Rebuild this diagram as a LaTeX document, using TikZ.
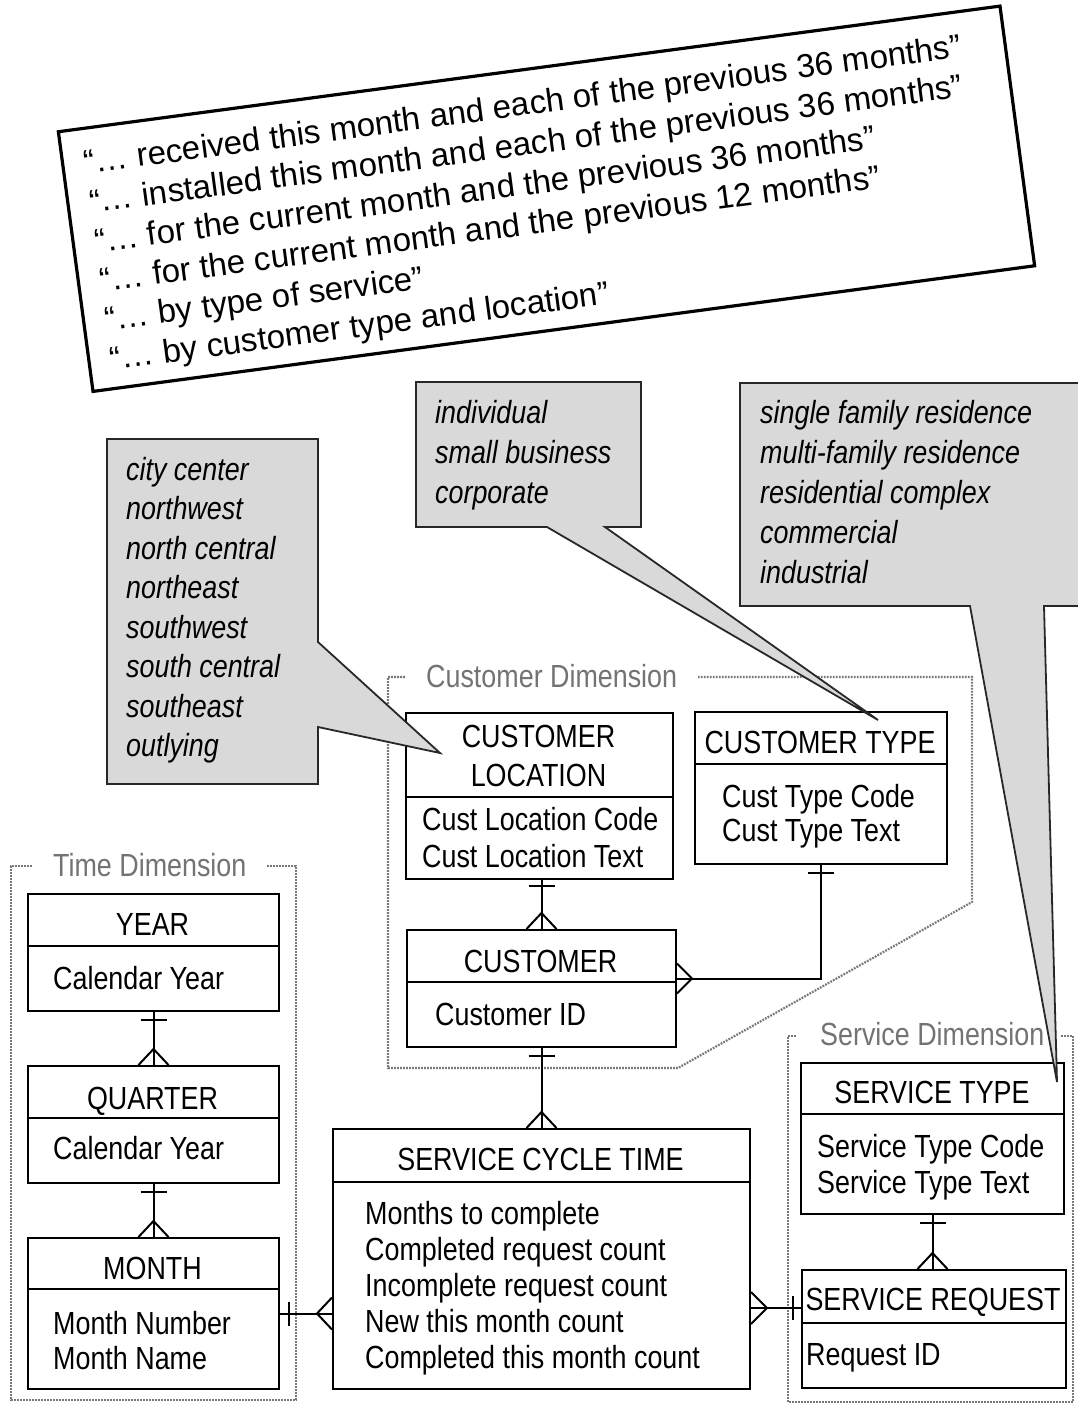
\documentclass[tikz,border=0pt]{standalone}
\usepackage{fontspec}
\setmainfont{Liberation Sans}[FakeStretch=0.84]
\newfontfamily\quotefont{Liberation Sans}
\usetikzlibrary{calc}
\definecolor{calloutfill}{RGB}{217,217,217}
\definecolor{calloutline}{RGB}{40,40,40}
\definecolor{framegray}{RGB}{120,120,120}
\definecolor{labelgray}{RGB}{115,115,115}
\begin{document}
\begin{tikzpicture}[x=1pt,y=-1pt,
  entity/.style={draw, line width=2pt, fill=white, anchor=north west, inner sep=0pt},
  lsk/.style={font=\fontsize{32}{#1}\selectfont},
  % multi-line texts are placed by the baseline of their last line
  etitle/.style={anchor=base, inner sep=0pt, align=center, lsk=39},
  eattr/.style={anchor=base west, inner sep=0pt, align=left, lsk=36},
  divider/.style={line width=1.6pt},
  conn/.style={line width=2pt},
  dimframe/.style={draw=framegray, line width=2.2pt, dash pattern=on 1.8pt off 1.2pt},
  dimlabel/.style={anchor=base west, inner sep=0pt, text=labelgray, lsk=36},
  callout/.style={fill=calloutfill, draw=calloutline, line width=1.8pt, line join=miter},
  callouttext/.style={anchor=base west, inner sep=0pt, align=left, font=\itshape\fontsize{32}{40}\selectfont},
]
\path[use as bounding box, fill=white] (0,0) rectangle (1078,1406);

% ---------- quoted requirements ----------
\node[draw, line width=3.2pt, rotate=7.6, minimum width=950pt, minimum height=262pt,
      inner sep=0pt, fill=white] (quotes) at (546.5,198.75) {};
\begin{scope}[shift={(quotes.north west)}, rotate=7.6]
  \node[transform shape, anchor=north west, inner sep=0pt, align=left,
        font=\quotefont\fontsize{33}{39.6}\selectfont] (qtext) at (23,23)
  {“… received this month and each of the previous 36 months”\\
   “… installed this month and each of the previous 36 months”\\
   “… for the current month and the previous 36 months”\\
   “… for the current month and the previous 12 months”\\
   “… by type of service”\\
   “… by customer type and location”};
\end{scope}

% ---------- dimension frames ----------
\draw[dimframe] (405,677) -- (388,677) -- (388,1068) -- (678,1068) -- (972,902) -- (972,677) -- (698,677);
\node[dimlabel] (custdim) at (426,687) {Customer Dimension};
\draw[dimframe] (32,866) -- (11,866) -- (11,1400) -- (296,1400) -- (296,866) -- (267,866);
\node[dimlabel] (timedim) at (53,876) {Time Dimension};
\draw[dimframe] (796,1036) -- (788,1036) -- (788,1402) -- (1073,1402) -- (1073,1036) -- (1060,1036);
\node[dimlabel] (servdim) at (820,1045) {Service Dimension};

% ---------- entities ----------
\node[entity, minimum width=251pt, minimum height=117pt] (year) at (27,893) {};
\node[entity, minimum width=251pt, minimum height=117pt] (quarter) at (27,1065) {};
\node[entity, minimum width=251pt, minimum height=151pt] (month) at (27,1237) {};
\node[entity, minimum width=267pt, minimum height=166pt] (cloc) at (405,712) {};
\node[entity, minimum width=252pt, minimum height=152pt] (ctype) at (694,711) {};
\node[entity, minimum width=269pt, minimum height=117pt] (cust) at (406,929) {};
\node[entity, minimum width=417pt, minimum height=260pt] (sct) at (332,1128) {};
\node[entity, minimum width=263pt, minimum height=151pt] (stype) at (800,1062) {};
\node[entity, minimum width=264pt, minimum height=118pt] (sreq) at (801,1269) {};

% dividers between entity name and attributes
\draw[divider] (year.west |- 0,946) -- (year.east |- 0,946);
\draw[divider] (quarter.west |- 0,1118) -- (quarter.east |- 0,1118);
\draw[divider] (month.west |- 0,1289) -- (month.east |- 0,1289);
\draw[divider] (cloc.west |- 0,797) -- (cloc.east |- 0,797);
\draw[divider] (ctype.west |- 0,764) -- (ctype.east |- 0,764);
\draw[divider] (cust.west |- 0,982) -- (cust.east |- 0,982);
\draw[divider] (sct.west |- 0,1182) -- (sct.east |- 0,1182);
\draw[divider] (stype.west |- 0,1114) -- (stype.east |- 0,1114);
\draw[divider] (sreq.west |- 0,1323) -- (sreq.east |- 0,1323);

% entity names and attributes
\node[etitle] (yearT) at (152.5,935) {YEAR};
\node[eattr] (yearA) at (53,989) {Calendar Year};
\node[etitle] (quarterT) at (152.5,1109) {QUARTER};
\node[eattr] (quarterA) at (53,1159) {Calendar Year};
\node[etitle] (monthT) at (152.5,1279) {MONTH};
\node[eattr, lsk=35] (monthA) at (53,1369) {Month Number\\Month Name};
\node[etitle] (clocT) at (538.5,786) {CUSTOMER\\LOCATION};
\node[eattr, lsk=37] (clocA) at (422,867) {Cust Location Code\\Cust Location Text};
\node[etitle] (ctypeT) at (820,753) {CUSTOMER TYPE};
\node[eattr, lsk=34] (ctypeA) at (722,841) {Cust Type Code\\Cust Type Text};
\node[etitle] (custT) at (540.5,972) {CUSTOMER};
\node[eattr] (custA) at (435,1025) {Customer ID};
\node[etitle] (sctT) at (540.5,1170) {SERVICE CYCLE TIME};
\node[eattr] (sctA) at (365,1368) {Months to complete\\Completed request count\\Incomplete request count\\New this month count\\Completed this month count};
\node[etitle] (stypeT) at (932,1103) {SERVICE TYPE};
\node[eattr] (stypeA) at (817,1193) {Service Type Code\\Service Type Text};
\node[etitle] (sreqT) at (933,1310) {SERVICE REQUEST};
\node[eattr] (sreqA) at (806,1365) {Request ID};

% ---------- relationships (bar = one, crow's foot = many) ----------
% YEAR - QUARTER
\draw[conn] (year.south) -- (quarter.north);
\draw[conn] ($(year.south)+(-13,8)$) -- ++(26,0);
\draw[conn] ($(quarter.north)+(-15,0)$) -- ++(15,-16) -- ++(15,16);
% QUARTER - MONTH
\draw[conn] (quarter.south) -- (month.north);
\draw[conn] ($(quarter.south)+(-13,8)$) -- ++(26,0);
\draw[conn] ($(month.north)+(-15,0)$) -- ++(15,-16) -- ++(15,16);
% CUSTOMER LOCATION - CUSTOMER
\draw[conn] (cust.north |- cloc.south) -- (cust.north);
\draw[conn] ($(cust.north |- cloc.south)+(-13,6)$) -- ++(26,0);
\draw[conn] ($(cust.north)+(-15,0)$) -- ++(15,-16) -- ++(15,16);
% CUSTOMER TYPE - CUSTOMER
\coordinate (custR) at ($(cust.east)+(0,-10)$);
\draw[conn] (ctype.south) -- (ctype.south |- custR) -- (custR);
\draw[conn] ($(ctype.south)+(-13,8)$) -- ++(26,0);
\draw[conn] ($(custR)+(0,-15)$) -- ++(15,15) -- ++(-15,15);
% CUSTOMER - SERVICE CYCLE TIME
\draw[conn] (cust.south) -- (cust.south |- sct.north);
\draw[conn] ($(cust.south)+(-13,8)$) -- ++(26,0);
\draw[conn] ($(cust.south |- sct.north)+(-15,0)$) -- ++(15,-16) -- ++(15,16);
% SERVICE TYPE - SERVICE REQUEST
\draw[conn] (stype.south) -- (stype.south |- sreq.north);
\draw[conn] ($(stype.south)+(-13,8)$) -- ++(26,0);
\draw[conn] ($(stype.south |- sreq.north)+(-15,0)$) -- ++(15,-16) -- ++(15,16);
% SERVICE REQUEST - SERVICE CYCLE TIME
\coordinate (sreqL) at ($(sreq.west)+(0,-21)$);
\draw[conn] (sreqL) -- (sct.east |- sreqL);
\draw[conn] ($(sreqL)+(-8,-12)$) -- ++(0,24);
\draw[conn] ($(sct.east |- sreqL)+(0,-16)$) -- ++(16,16) -- ++(-16,16);
% MONTH - SERVICE CYCLE TIME
\draw[conn] (month.east) -- (month.east -| sct.west);
\draw[conn] ($(month.east)+(9,-12)$) -- ++(0,24);
\draw[conn] ($(month.east -| sct.west)+(0,-16)$) -- ++(-15,16) -- ++(15,16);

% ---------- value callouts ----------
\draw[callout] (107,439) -- (318,439) -- (318,642) -- (440,753) -- (318,727)
  -- (318,784) -- (107,784) -- cycle;
\node[callouttext, font=\itshape\fontsize{32}{39.5}\selectfont] (locvals) at (126,756.5)
  {city center\\northwest\\north central\\northeast\\southwest\\south central\\southeast\\outlying};

\draw[callout] (416,382) -- (641,382) -- (641,527) -- (605,527) -- (878,720)
  -- (547,527) -- (416,527) -- cycle;
\node[callouttext] (typevals) at (435,503) {individual\\small business\\corporate};

\draw[callout] (740,383) -- (1100,383) -- (1100,606) -- (1044,606) -- (1057,1082)
  -- (970,606) -- (740,606) -- cycle;
\node[callouttext] (servvals) at (760,583)
  {single family residence\\multi-family residence\\residential complex\\commercial\\industrial};
\end{tikzpicture}
\end{document}
